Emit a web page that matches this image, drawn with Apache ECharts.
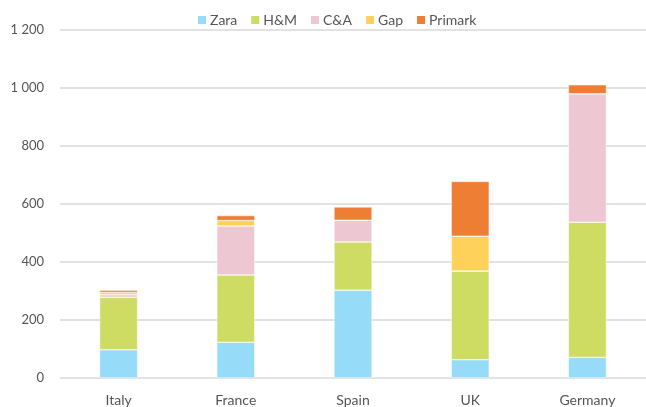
<!DOCTYPE html>
<html>
<head>
<meta charset="utf-8">
<script src="https://cdn.jsdelivr.net/npm/echarts@6/dist/echarts.min.js"></script>
<style>
  html, body { margin: 0; padding: 0; background: #fff; }
  #main { width: 646px; height: 407px; }
</style>
</head>
<body>
<div id="main"></div>
<script>
// countries on the x axis
var countries = ['Italy', 'France', 'Spain', 'UK', 'Germany'];

// store counts per retailer
var zara    = [97, 123, 303, 63, 71];
var hm      = [181, 232, 166, 306, 466];
var ca      = [9, 169, 75, 0, 443];
var gap     = [8, 19, 0, 120, 0];
var primark = [8, 17, 46, 189, 31];

var yTicks = [0, 200, 400, 600, 800, 1000, 1200];

var myChart = echarts.init(document.getElementById('main'));

function fmt(v) {
  return String(v).replace(/\B(?=(\d{3})+(?!\d))/g, ' ');
}

function bar(name, data, color) {
  return {
    name: name,
    type: 'bar',
    stack: 'total',
    barWidth: 38,
    data: data,
    itemStyle: { color: color, borderColor: '#fff', borderWidth: 0.5 }
  };
}

myChart.setOption({
  animation: false,
  textStyle: { fontFamily: 'Lato, sans-serif' },
  legend: {
    top: 13,
    left: 196,
    padding: 0,
    itemWidth: 10,
    itemHeight: 10,
    itemGap: 12,
    icon: 'rect',
    textStyle: { color: '#555', fontSize: 14, padding: [0, 0, 0, -2] }
  },
  grid: { left: 60, top: 30, width: 589, height: 349 },
  xAxis: {
    type: 'category',
    data: countries,
    axisLine: { show: false },
    axisTick: { show: false },
    axisLabel: { color: '#555', fontSize: 14, margin: 15 }
  },
  yAxis: {
    type: 'value',
    min: yTicks[0],
    max: yTicks[yTicks.length - 1],
    interval: 200,
    axisLine: { show: false },
    axisTick: { show: false },
    splitLine: { lineStyle: { color: '#d9d9d9', width: 1.5 } },
    axisLabel: { color: '#555', fontSize: 13, margin: 16, formatter: fmt }
  },
  series: [
    bar('Zara', zara, '#96dbf8'),
    bar('H&M', hm, '#cedc64'),
    bar('C&A', ca, '#edc8d3'),
    bar('Gap', gap, '#fdd15a'),
    bar('Primark', primark, '#ee7e33')
  ]
});
</script>
</body>
</html>
